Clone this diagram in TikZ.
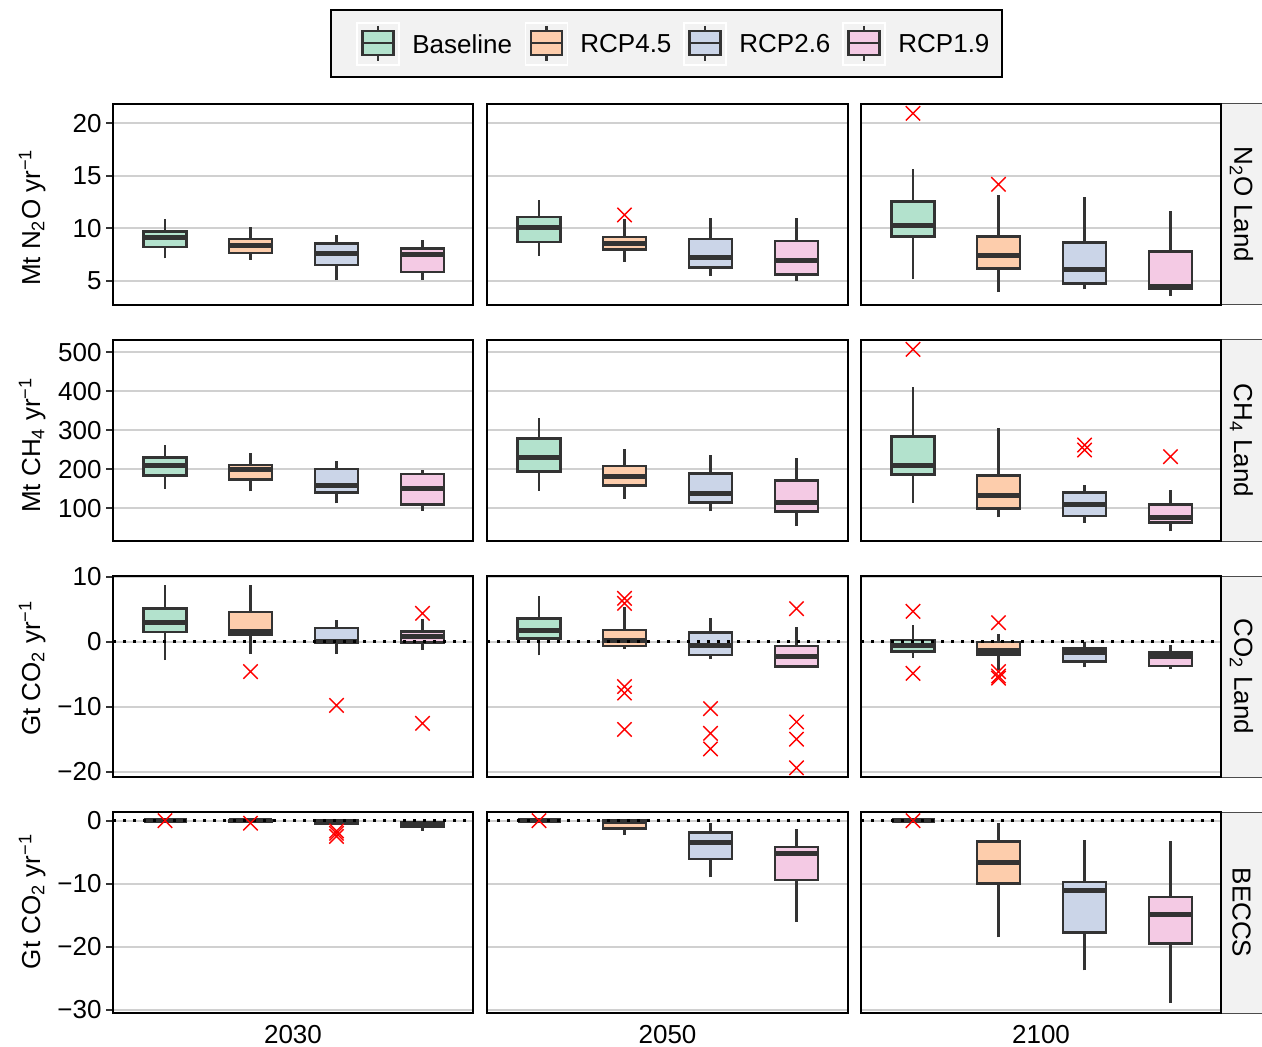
\documentclass[tikz,border=0pt]{standalone}
\usepackage{fontspec}
\setmainfont{Liberation Sans}
\usetikzlibrary{shapes.misc}
\definecolor{cbase}{HTML}{B3E2CD}
\definecolor{crcpa}{HTML}{FDCDAC}
\definecolor{crcpb}{HTML}{CBD5E8}
\definecolor{crcpc}{HTML}{F4CAE4}
\definecolor{boxc}{HTML}{333333}
\definecolor{gridc}{HTML}{D0D0D0}
\definecolor{bgc}{HTML}{F2F2F2}
\newcommand{\bxp}[7]{
	\draw[wsk] (#1,#2) -- (#1,#3);
	\draw[wsk] (#1,#5) -- (#1,#6);
	\draw[bx,fill=#7] (#1-21.5,#3) rectangle (#1+21.5,#5);
	\draw[med] (#1-21.5,#4) -- (#1+21.5,#4);
}
\newcommand{\outl}[2]{\node[ox] at (#1,#2) {};}

\begin{document}
\begin{tikzpicture}[x=0.5pt,y=-0.5pt,font=\fontsize{13}{15}\selectfont]
			\tikzstyle{bx} = [draw=boxc, line width=1.3pt]
			\tikzstyle{wsk} = [draw=boxc, line width=1.2pt]
			\tikzstyle{med} = [draw=boxc, line width=2.5pt]
			\tikzstyle{grd} = [draw=gridc, line width=1pt]
			\tikzstyle{zl} = [draw=black, line width=1.3pt, dash pattern=on 1.3pt off 3.7pt]
			\tikzstyle{pan} = [draw=black, line width=1.1pt]
			\tikzstyle{strp} = [draw=gray!60!black, fill=bgc, line width=0.5pt]
			\tikzstyle{ox} = [draw=red, cross out, minimum size=6.5pt, inner sep=0pt, line width=0.7pt]
			\tikzstyle{tk} = [draw=boxc, line width=1pt]
			\tikzstyle{tl} = [anchor=east, inner sep=0pt]
			\tikzstyle{key} = [draw=white, fill=bgc, line width=0.8pt]
			\useasboundingbox (0,0) rectangle (1262,1047);
			% legend
			\draw[pan, fill=bgc] (331,10) rectangle (1002,77);
			\draw[key] (357,23) rectangle (399,65);
			\draw[key] (525.5,23) rectangle (567.5,65);
			\draw[key] (684,23) rectangle (726,65);
			\draw[key] (843,23) rectangle (885,65);
			\draw[wsk] (378,26) -- (378,61);
			\draw[wsk] (546.5,26) -- (546.5,61);
			\draw[wsk] (705,26) -- (705,61);
			\draw[wsk] (864,26) -- (864,61);
			\draw[bx, fill=cbase] (362.5,31) rectangle (393.5,55);
			\draw[bx, fill=crcpa] (531,31) rectangle (562,55);
			\draw[bx, fill=crcpb] (689.5,31) rectangle (720.5,55);
			\draw[bx, fill=crcpc] (848.5,31) rectangle (879.5,55);
			\draw[bx] (362.5,43) -- (393.5,43);
			\draw[bx] (531,43) -- (562,43);
			\draw[bx] (689.5,43) -- (720.5,43);
			\draw[bx] (848.5,43) -- (879.5,43);
			\node[anchor=west, inner sep=0pt] (lbase) at (412,44) {Baseline};
			\node[anchor=west, inner sep=0pt] (lrcpa) at (580,44) {RCP4.5};
			\node[anchor=west, inner sep=0pt] (lrcpb) at (739,44) {RCP2.6};
			\node[anchor=west, inner sep=0pt] (lrcpc) at (898,44) {RCP1.9};
			% N2O row
			\begin{scope}[shift={(113,333.2)}, yscale=-10.5]
				\draw[grd] (0,5) -- (360,5);
				\draw[grd] (0,10) -- (360,10);
				\draw[grd] (0,15) -- (360,15);
				\draw[grd] (0,20) -- (360,20);
				\draw[tk] (-7,5) -- (0,5);
				\draw[tk] (-7,10) -- (0,10);
				\draw[tk] (-7,15) -- (0,15);
				\draw[tk] (-7,20) -- (0,20);
				\node[tl] (na5) at (-11,5) {5};
				\node[tl] (na10) at (-11,10) {10};
				\node[tl] (na15) at (-11,15) {15};
				\node[tl] (na20) at (-11,20) {20};
				\bxp{52}{7.13}{8.2}{9.1}{9.67}{10.88}{cbase}
				\bxp{137.5}{7.0}{7.64}{8.33}{8.97}{10.1}{crcpa}
				\bxp{223.5}{5.04}{6.5}{7.57}{8.52}{9.32}{crcpb}
				\bxp{309.5}{5.07}{5.83}{7.45}{8.05}{8.88}{crcpc}
			\end{scope}
			\begin{scope}[shift={(487,333.2)}, yscale=-10.5]
				\draw[grd] (0,5) -- (361,5);
				\draw[grd] (0,10) -- (361,10);
				\draw[grd] (0,15) -- (361,15);
				\draw[grd] (0,20) -- (361,20);
				\bxp{52}{7.38}{8.69}{10.11}{11.07}{12.66}{cbase}
				\bxp{137.5}{6.81}{7.95}{8.5}{9.16}{10.88}{crcpa}
				\bxp{223.5}{5.48}{6.24}{7.23}{8.97}{10.94}{crcpb}
				\bxp{309.5}{5.0}{5.6}{6.88}{8.78}{11.0}{crcpc}
				\outl{137.5}{11.26}
			\end{scope}
			\begin{scope}[shift={(861,333.2)}, yscale=-10.5]
				\draw[grd] (0,5) -- (360,5);
				\draw[grd] (0,10) -- (360,10);
				\draw[grd] (0,15) -- (360,15);
				\draw[grd] (0,20) -- (360,20);
				\bxp{52}{5.13}{9.23}{10.3}{12.56}{15.64}{cbase}
				\bxp{137.5}{3.9}{6.18}{7.38}{9.23}{13.2}{crcpa}
				\bxp{223.5}{4.18}{4.75}{6.08}{8.66}{12.94}{crcpb}
				\bxp{309.5}{3.57}{4.2}{4.43}{7.8}{11.67}{crcpc}
				\outl{52}{20.94}
				\outl{137.5}{14.18}
			\end{scope}
			% CH4 row
			\begin{scope}[shift={(113,547.6)}, yscale=-0.391]
				\draw[grd] (0,100) -- (360,100);
				\draw[grd] (0,200) -- (360,200);
				\draw[grd] (0,300) -- (360,300);
				\draw[grd] (0,400) -- (360,400);
				\draw[grd] (0,500) -- (360,500);
				\draw[tk] (-7,100) -- (0,100);
				\draw[tk] (-7,200) -- (0,200);
				\draw[tk] (-7,300) -- (0,300);
				\draw[tk] (-7,400) -- (0,400);
				\draw[tk] (-7,500) -- (0,500);
				\node[tl] (ca100) at (-11,100) {100};
				\node[tl] (ca200) at (-11,200) {200};
				\node[tl] (ca300) at (-11,300) {300};
				\node[tl] (ca400) at (-11,400) {400};
				\node[tl] (ca500) at (-11,500) {500};
				\bxp{52}{150.6}{184}{209}{231}{262}{cbase}
				\bxp{137.5}{144}{173.7}{198.5}{211}{242.7}{crcpa}
				\bxp{223.5}{113.3}{141.4}{160}{201}{220.7}{crcpb}
				\bxp{309.5}{94.4}{109.8}{150.6}{188}{198.5}{crcpc}
			\end{scope}
			\begin{scope}[shift={(487,547.6)}, yscale=-0.391]
				\draw[grd] (0,100) -- (361,100);
				\draw[grd] (0,200) -- (361,200);
				\draw[grd] (0,300) -- (361,300);
				\draw[grd] (0,400) -- (361,400);
				\draw[grd] (0,500) -- (361,500);
				\bxp{52}{145.5}{194}{231.7}{279.5}{331.5}{cbase}
				\bxp{137.5}{125}{159.3}{181.3}{208.7}{251.4}{crcpa}
				\bxp{223.5}{92.8}{114.8}{137.9}{189}{236.8}{crcpb}
				\bxp{309.5}{55.2}{91.8}{116.6}{172}{229}{crcpc}
			\end{scope}
			\begin{scope}[shift={(861,547.6)}, yscale=-0.391]
				\draw[grd] (0,100) -- (360,100);
				\draw[grd] (0,200) -- (360,200);
				\draw[grd] (0,300) -- (360,300);
				\draw[grd] (0,400) -- (360,400);
				\draw[grd] (0,500) -- (360,500);
				\bxp{52}{114.8}{186.5}{209.5}{283.6}{411.5}{cbase}
				\bxp{137.5}{77.5}{99.5}{133.8}{184.9}{306.7}{crcpa}
				\bxp{223.5}{63.7}{80.8}{109}{140.4}{160.9}{crcpb}
				\bxp{309.5}{41.7}{64.7}{76.5}{110.7}{148}{crcpc}
				\outl{52}{507}
				\outl{223.5}{262.4}
				\outl{223.5}{249.6}
				\outl{309.5}{232.5}
			\end{scope}
			% CO2 row
			\begin{scope}[shift={(113,641.7)}, yscale=-6.5]
				\draw[grd] (0,-20) -- (360,-20);
				\draw[grd] (0,-10) -- (360,-10);
				\draw[grd] (0,0) -- (360,0);
				\draw[grd] (0,10) -- (360,10);
				\draw[tk] (-7,-20) -- (0,-20);
				\draw[tk] (-7,-10) -- (0,-10);
				\draw[tk] (-7,0) -- (0,0);
				\draw[tk] (-7,10) -- (0,10);
				\node[tl] (ga20) at (-11,-20) {−20};
				\node[tl] (ga10) at (-11,-10) {−10};
				\node[tl] (ga0) at (-11,0) {0};
				\node[tl] (gb10) at (-11,10) {10};
				\bxp{52}{-2.82}{1.49}{2.98}{5.13}{8.67}{cbase}
				\bxp{137.5}{-1.9}{1.13}{1.6}{4.57}{8.77}{crcpa}
				\bxp{223.5}{-1.9}{-0.15}{0.1}{2.1}{3.34}{crcpb}
				\bxp{309.5}{-1.28}{-0.15}{0.77}{1.6}{3.54}{crcpc}
				\draw[zl] (0,0) -- (360,0);
				\outl{137.5}{-4.6}
				\outl{223.5}{-9.8}
				\outl{309.5}{4.37}
				\outl{309.5}{-12.56}
			\end{scope}
			\begin{scope}[shift={(487,641.7)}, yscale=-6.5]
				\draw[grd] (0,-20) -- (361,-20);
				\draw[grd] (0,-10) -- (361,-10);
				\draw[grd] (0,0) -- (361,0);
				\draw[grd] (0,10) -- (361,10);
				\bxp{52}{-2.1}{0.52}{1.8}{3.54}{7.03}{cbase}
				\bxp{137.5}{-1.17}{-0.66}{0.26}{1.8}{5.29}{crcpa}
				\bxp{223.5}{-2.7}{-2.05}{-0.66}{1.4}{3.65}{crcpb}
				\bxp{309.5}{-3.85}{-3.85}{-2.3}{-0.66}{2.3}{crcpc}
				\draw[zl] (0,0) -- (361,0);
				\outl{137.5}{6.67}
				\outl{137.5}{5.9}
				\outl{137.5}{-6.9}
				\outl{137.5}{-7.9}
				\outl{137.5}{-13.5}
				\outl{223.5}{-10.3}
				\outl{223.5}{-14.1}
				\outl{223.5}{-16.5}
				\outl{309.5}{5.08}
				\outl{309.5}{-12.35}
				\outl{309.5}{-15.0}
				\outl{309.5}{-19.4}
			\end{scope}
			\begin{scope}[shift={(861,641.7)}, yscale=-6.5]
				\draw[grd] (0,-20) -- (360,-20);
				\draw[grd] (0,-10) -- (360,-10);
				\draw[grd] (0,0) -- (360,0);
				\draw[grd] (0,10) -- (360,10);
				\bxp{52}{-2.5}{-1.54}{-0.66}{0.26}{2.5}{cbase}
				\bxp{137.5}{-4.35}{-2.0}{-1.43}{-0.05}{1.14}{crcpa}
				\bxp{223.5}{-3.94}{-3.02}{-1.69}{-1.07}{-0.05}{crcpb}
				\bxp{309.5}{-4.25}{-3.74}{-2.2}{-1.69}{-0.56}{crcpc}
				\draw[zl] (0,0) -- (360,0);
				\outl{52}{4.67}
				\outl{52}{-4.87}
				\outl{137.5}{2.92}
				\outl{137.5}{-4.6}
				\outl{137.5}{-5.28}
				\outl{137.5}{-5.6}
			\end{scope}
			% BECCS row
			\begin{scope}[shift={(113,820.7)}, yscale=-6.31]
				\draw[grd] (0,-30) -- (360,-30);
				\draw[grd] (0,-20) -- (360,-20);
				\draw[grd] (0,-10) -- (360,-10);
				\draw[grd] (0,0) -- (360,0);
				\draw[tk] (-7,-30) -- (0,-30);
				\draw[tk] (-7,-20) -- (0,-20);
				\draw[tk] (-7,-10) -- (0,-10);
				\draw[tk] (-7,0) -- (0,0);
				\node[tl] (ba30) at (-11,-30) {−30};
				\node[tl] (ba20) at (-11,-20) {−20};
				\node[tl] (ba10) at (-11,-10) {−10};
				\node[tl] (ba0) at (-11,0) {0};
				\bxp{52}{0}{0}{0}{0}{0}{cbase}
				\bxp{137.5}{-0.1}{-0.1}{0}{0}{0}{crcpa}
				\bxp{223.5}{-0.5}{-0.5}{-0.2}{0}{0}{crcpb}
				\bxp{309.5}{-1.6}{-0.95}{-0.7}{-0.3}{-0.3}{crcpc}
				\draw[zl] (0,0) -- (360,0);
				\outl{52}{0}
				\outl{137.5}{-0.4}
				\outl{223.5}{-1.63}
				\outl{223.5}{-2.0}
				\outl{223.5}{-2.5}
			\end{scope}
			\begin{scope}[shift={(487,820.7)}, yscale=-6.31]
				\draw[grd] (0,-30) -- (361,-30);
				\draw[grd] (0,-20) -- (361,-20);
				\draw[grd] (0,-10) -- (361,-10);
				\draw[grd] (0,0) -- (361,0);
				\bxp{52}{0}{0}{0}{0}{0}{cbase}
				\bxp{137.5}{-2.3}{-1.2}{-0.2}{0}{0}{crcpa}
				\bxp{223.5}{-8.97}{-6.1}{-3.48}{-1.84}{-0.4}{crcpb}
				\bxp{309.5}{-16}{-9.4}{-5.2}{-4.17}{-1.26}{crcpc}
				\draw[zl] (0,0) -- (361,0);
				\outl{52}{0}
			\end{scope}
			\begin{scope}[shift={(861,820.7)}, yscale=-6.31]
				\draw[grd] (0,-30) -- (360,-30);
				\draw[grd] (0,-20) -- (360,-20);
				\draw[grd] (0,-10) -- (360,-10);
				\draw[grd] (0,0) -- (360,0);
				\bxp{52}{0}{0}{0}{0}{0}{cbase}
				\bxp{137.5}{-18.5}{-9.92}{-6.55}{-3.27}{-0.3}{crcpa}
				\bxp{223.5}{-23.7}{-17.7}{-11.0}{-9.7}{-3.06}{crcpb}
				\bxp{309.5}{-28.9}{-19.5}{-14.8}{-12.1}{-3.27}{crcpc}
				\draw[zl] (0,0) -- (360,0);
				\outl{52}{0}
			\end{scope}
			% strips and frames
			\draw[strp] (1221,104) rectangle (1262,305);
			\draw[strp] (1221,340) rectangle (1262,541);
			\draw[strp] (1221,576) rectangle (1262,777);
			\draw[strp] (1221,812) rectangle (1262,1013);
			\draw[pan] (113,104) rectangle (473,305);
			\draw[pan] (487,104) rectangle (848,305);
			\draw[pan] (861,104) rectangle (1221,305);
			\draw[pan] (113,340) rectangle (473,541);
			\draw[pan] (487,340) rectangle (848,541);
			\draw[pan] (861,340) rectangle (1221,541);
			\draw[pan] (113,576) rectangle (473,777);
			\draw[pan] (487,576) rectangle (848,777);
			\draw[pan] (861,576) rectangle (1221,777);
			\draw[pan] (113,812) rectangle (473,1013);
			\draw[pan] (487,812) rectangle (848,1013);
			\draw[pan] (861,812) rectangle (1221,1013);
			\node[rotate=-90] (sn2o) at (1241.5,204.5) {N\textsubscript{2}O Land};
			\node[rotate=-90] (sch4) at (1241.5,440.5) {CH\textsubscript{4} Land};
			\node[rotate=-90] (sco2) at (1241.5,676.5) {CO\textsubscript{2} Land};
			\node[rotate=-90] (sbec) at (1241.5,912.5) {BECCS};
			\node[rotate=90, anchor=base, inner sep=0pt] (yn2o) at (40,217.5) {Mt N\textsubscript{2}O yr\textsuperscript{−1}};
			\node[rotate=90, anchor=base, inner sep=0pt] (ych4) at (40,445) {Mt CH\textsubscript{4} yr\textsuperscript{−1}};
			\node[rotate=90, anchor=base, inner sep=0pt] (yco2) at (40,668) {Gt CO\textsubscript{2} yr\textsuperscript{−1}};
			\node[rotate=90, anchor=base, inner sep=0pt] (ybec) at (40,901.5) {Gt CO\textsubscript{2} yr\textsuperscript{−1}};
			\node (x2030) at (293,1035) {2030};
			\node (x2050) at (667.5,1035) {2050};
			\node (x2100) at (1041,1035) {2100};
		\end{tikzpicture}
\end{document}
